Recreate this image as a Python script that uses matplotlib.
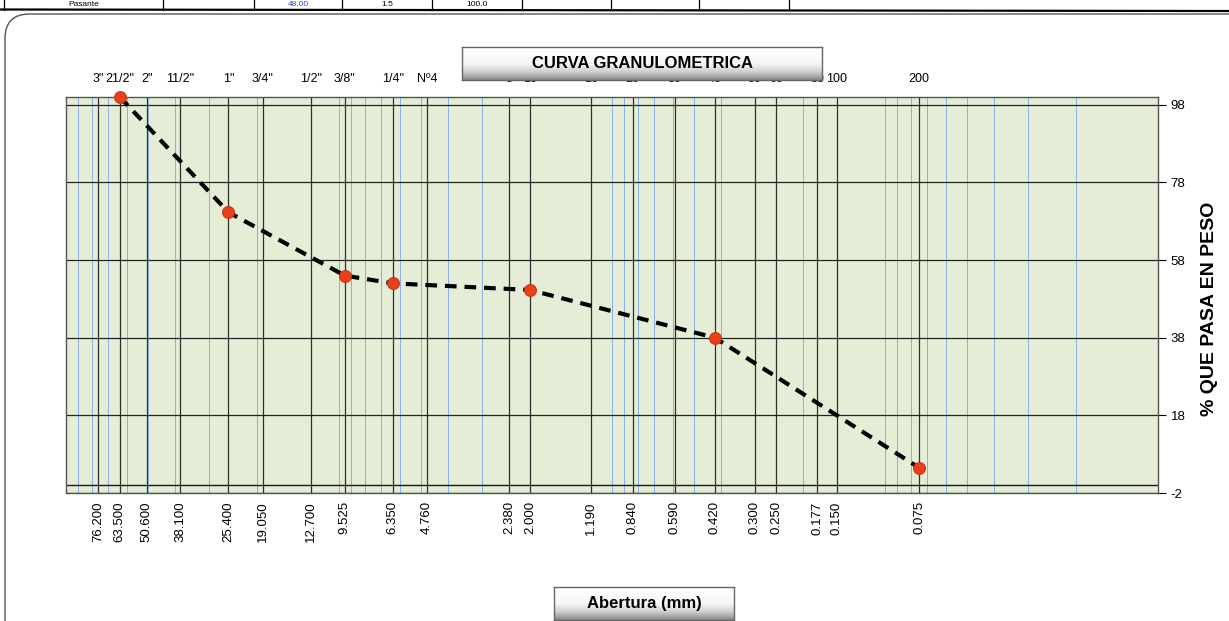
import numpy as np
import matplotlib.pyplot as plt
from matplotlib.ticker import FixedLocator, LogLocator, NullFormatter, FormatStrFormatter
from matplotlib.colors import LinearSegmentedColormap
from matplotlib.patches import FancyBboxPatch
from matplotlib.lines import Line2D

plt.rcParams['font.family'] = ['Liberation Sans', 'DejaVu Sans']
plt.rcParams['axes.unicode_minus'] = False

# tamices ASTM y su abertura en mm
tamices = ['3"', '21/2"', '2"', '11/2"', '1"', '3/4"', '1/2"', '3/8"', '1/4"', 'Nº4',
           '8', '10', '16', '20', '30', '40', '50', '60', '80', '100', '200']
aberturas = [76.2, 63.5, 50.6, 38.1, 25.4, 19.05, 12.7, 9.525, 6.35, 4.76,
             2.38, 2.0, 1.19, 0.84, 0.59, 0.42, 0.30, 0.25, 0.177, 0.15, 0.075]

# resultados del ensayo
muestra_abertura = [63.5, 25.4, 9.525, 6.35, 2.0, 0.42, 0.075]
muestra_pasa = [100.0, 70.3, 54.0, 52.0, 50.3, 38.0, 4.5]

# fila final de la tabla de arriba
tabla_textos = ['Pasante', '', '48.00', '1.5', '100.0']
tabla_colores = ['black', 'black', '#1f4fd0', 'black', 'black']

W, H = 1229, 621
fig = plt.figure(figsize=(W / 100, H / 100), dpi=100)
fig.patch.set_facecolor('white')

# ---- tabla de arriba ----
cols_x = [4, 163, 254, 342, 432, 522, 611, 699, 789]
fig.add_artist(Line2D([0, 1], [1 - 9.5 / H, 1 - 11 / H], transform=fig.transFigure,
                      color='black', lw=1.6))
for x in cols_x:
    fig.add_artist(Line2D([x / W, x / W], [1, 1 - 9.5 / H], transform=fig.transFigure,
                          color='black', lw=0.9))
for i, (t, c) in enumerate(zip(tabla_textos, tabla_colores)):
    xc = (cols_x[i] + cols_x[i + 1]) / 2
    fig.text(xc / W, 1 - 4.5 / H, t, ha='center', va='center', fontsize=6, color=c)

# ---- marco redondeado del grafico ----
marco = FancyBboxPatch((5 / W, -0.1), 1.1, 1 - 14 / H + 0.1,
                       boxstyle='round,pad=0,rounding_size=0.02',
                       mutation_aspect=W / H, transform=fig.transFigure,
                       fill=False, edgecolor='#555555', lw=1.0)
fig.add_artist(marco)

# ---- area de trazado ----
left, right, top, bottom = 66, 1158, 97, 493
ax = fig.add_axes([left / W, 1 - bottom / H, (right - left) / W, (bottom - top) / H])
ax.set_facecolor('#e5edd6')
ax.set_xscale('log')
ax.set_xlim(100, 0.01)
ax.set_ylim(-2, 100)
ax.set_axisbelow(True)

ax.xaxis.set_major_locator(FixedLocator(aberturas))
ax.xaxis.set_major_formatter(FormatStrFormatter('%.3f'))
ax.xaxis.set_minor_locator(LogLocator(base=10, subs=np.arange(1, 10), numticks=50))
ax.xaxis.set_minor_formatter(NullFormatter())
ax.tick_params(axis='x', which='both', length=0, labelsize=9.5, pad=6, labelrotation=90)

ax.xaxis.grid(True, which='minor', color='#8aaee2', lw=0.7)
ax.xaxis.grid(True, which='major', color='#2e2e2e', lw=0.9)

ax.yaxis.tick_right()
ax.set_yticks(np.arange(-2, 99, 20))
ax.tick_params(axis='y', length=6, width=0.8, direction='out', labelsize=9.5, pad=3)
ax.yaxis.grid(True, color='#222222', lw=0.9)
ax.axhline(0, color='#1a1a1a', lw=1.0, zorder=1)

for s in ax.spines.values():
    s.set_color('#555555')
    s.set_linewidth(1.0)

# nombres de tamices arriba
for x, nombre in zip(aberturas, tamices):
    ax.text(x, 1 + 18 / (bottom - top), nombre, transform=ax.get_xaxis_transform(),
            ha='center', va='center', fontsize=9)

# curva granulometrica
ax.plot(muestra_abertura, muestra_pasa, color='black', lw=3,
        linestyle=(0, (2.8, 1.9)), zorder=3)
ax.plot(muestra_abertura, muestra_pasa, linestyle='none', marker='o', markersize=8.5,
        markerfacecolor='#e8401c', markeredgecolor='#c83212', markeredgewidth=0.8,
        zorder=4, clip_on=False)

fig.text(1209 / W, 1 - 309 / H, '% QUE PASA EN PESO', rotation=90, ha='center',
         va='center', fontsize=14, fontweight='bold')

# ---- cajas de titulo ----
degradado = LinearSegmentedColormap.from_list(
    'caja', [(0.0, '#8a8a8a'), (0.25, '#cfcfcf'), (0.5, '#f6f6f6'), (1.0, '#ffffff')])


def caja(x0, y0, x1, y1, texto, size):
    bx = fig.add_axes([x0 / W, 1 - y1 / H, (x1 - x0) / W, (y1 - y0) / H])
    grad = np.linspace(1, 0, 60)[:, None]
    bx.imshow(grad, aspect='auto', cmap=degradado, extent=[0, 1, 0, 1])
    bx.set_xticks([])
    bx.set_yticks([])
    for s in bx.spines.values():
        s.set_color('#666666')
        s.set_linewidth(1.0)
    bx.text(0.5, 0.5, texto, ha='center', va='center', fontsize=size,
            fontweight='bold', transform=bx.transAxes)
    return bx


caja(462, 47, 822, 80, 'CURVA GRANULOMETRICA', 12)
caja(554, 587, 734, 620, 'Abertura (mm)', 12)

fig.savefig('out.png', dpi=100)
